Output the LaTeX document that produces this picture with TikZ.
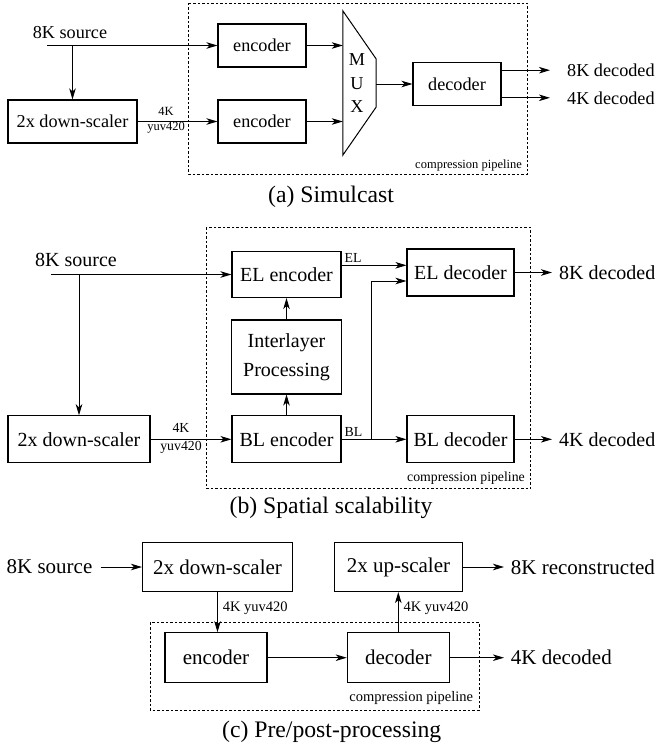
\documentclass[tikz,border=0pt]{standalone}
\usepackage{fontspec}
\setmainfont{Liberation Serif}
\usetikzlibrary{arrows.meta,calc}
\newcommand{\ftA}{\fontsize{18.2}{23.5}\selectfont}
\newcommand{\ftB}{\fontsize{20}{29}\selectfont}
\newcommand{\ftC}{\fontsize{21}{25}\selectfont}
\newcommand{\smA}{\fontsize{12.5}{15}\selectfont}
\newcommand{\smB}{\fontsize{13.8}{18.7}\selectfont}
\newcommand{\smC}{\fontsize{14.5}{17}\selectfont}
\newcommand{\cpA}{\fontsize{23.7}{28}\selectfont}
\begin{document}
\begin{tikzpicture}[x=1pt,y=-1pt,
  blk/.style={draw,line width=1.1pt,inner sep=0pt,align=center},
  arr/.style={-{Stealth[length=11pt,width=6.5pt,inset=3pt]},line width=0.9pt},
  pipe/.style={draw,line width=0.8pt,dash pattern=on 2.5pt off 2pt},
  lbl/.style={inner sep=0pt}]
\useasboundingbox (0,0) rectangle (656,746);

%% ---------------- (a) Simulcast ----------------
\node[lbl,font=\ftA] (srca) at (70,33) {8K source};
\coordinate (sa0) at (47,45.5);
\coordinate (sa1) at (72.5,45.5);
\node[blk,font=\ftA,minimum width=129pt,minimum height=43pt] (dsa) at (72.5,121.5) {2x down-scaler};
\node[blk,font=\ftA,minimum width=88pt,minimum height=43pt] (enca1) at (262,45.5) {encoder};
\node[blk,font=\ftA,minimum width=88pt,minimum height=43pt] (enca2) at (262,121.5) {encoder};
\node[minimum width=33pt,minimum height=144pt,inner sep=0pt] (mux) at (359.5,83) {};
\draw[line width=1pt] (mux.north west) -- ($(mux.east)+(0,-24)$) -- ($(mux.east)+(0,24)$) -- (mux.south west) -- cycle;
\node[lbl,font=\ftA,align=center] (muxt) at (357,83.5) {M\\U\\X};
\node[blk,font=\ftA,minimum width=88pt,minimum height=43pt] (deca) at (457,84) {decoder};
\node[lbl,font=\ftA,anchor=west] (o8a) at (567,70.2) {8K decoded};
\node[lbl,font=\ftA,anchor=west] (o4a) at (567,97.8) {4K decoded};
\node[lbl,font=\smA,align=center] (ka) at (166,120.5) {4K\\yuv420};
\draw[pipe] (188,3) rectangle (527,174);
\node[lbl,font=\smA,anchor=east] (cpa) at (522,165) {compression pipeline};
\node[font=\cpA] (capa) at (331,197) {(a) Simulcast};

\draw[arr] (sa0) -- (enca1.west);
\draw[arr] (sa1) -- (dsa.north);
\draw[arr] (dsa.east) -- (enca2.west);
\draw[arr] (enca1.east) -- (mux.west |- enca1.east);
\draw[arr] (enca2.east) -- (mux.west |- enca2.east);
\draw[arr] (mux.east |- deca.west) -- (deca.west);
\draw[arr,shorten >=17pt] (deca.east |- o8a.west) -- (o8a.west);
\draw[arr,shorten >=17pt] (deca.east |- o4a.west) -- (o4a.west);

%% ---------------- (b) Spatial scalability ----------------
\node[lbl,font=\ftB] (srcb) at (76,260) {8K source};
\coordinate (sb0) at (51,274.5);
\coordinate (sb1) at (79,274.5);
\node[blk,font=\ftB,minimum width=142pt,minimum height=47pt] (dsb) at (79,439.3) {2x down-scaler};
\node[blk,font=\ftB,minimum width=109pt,minimum height=46pt] (elenc) at (286.5,274.5) {EL encoder};
\node[blk,font=\ftB,minimum width=110pt,minimum height=74pt] (ilp) at (286.5,357) {Interlayer\\Processing};
\node[blk,font=\ftB,minimum width=109pt,minimum height=47pt] (blenc) at (286.5,439.3) {BL encoder};
\node[blk,font=\ftB,minimum width=107pt,minimum height=47pt] (eldec) at (460.5,272.5) {EL decoder};
\node[blk,font=\ftB,minimum width=107pt,minimum height=47pt] (bldec) at (460.5,439.3) {BL decoder};
\node[lbl,font=\ftB,anchor=west] (o8b) at (559,272.5) {8K decoded};
\node[lbl,font=\ftB,anchor=west] (o4b) at (559,439.3) {4K decoded};
\node[lbl,font=\smB,align=center] (kb) at (181,438.4) {4K\\yuv420};
\node[lbl,font=\smB] (elt) at (353,257.5) {EL};
\node[lbl,font=\smB] (blt) at (353.5,431.5) {BL};
\coordinate (jb) at (371,439.3);
\coordinate (ela) at ($(elenc.east)+(0,-9.2)$);
\draw[pipe] (206,227.3) rectangle (530.7,488.3);
\node[lbl,font=\smB,anchor=east] (cpb) at (525,477.7) {compression pipeline};
\node[font=\cpA] (capb) at (331,508.3) {(b) Spatial scalability};

\draw[arr] (sb0) -- (elenc.west);
\draw[arr] (sb1) -- (dsb.north);
\draw[arr] (dsb.east) -- (blenc.west);
\draw[arr] (blenc.north) -- (ilp.south);
\draw[arr] (ilp.north) -- (elenc.south);
\draw[arr] (ela) -- (ela -| eldec.west);
\draw[arr] (blenc.east) -- (bldec.west);
\draw[arr] (jb) |- ($(eldec.west)+(0,8.5)$);
\draw[arr,shorten >=7pt] (eldec.east) -- (o8b.west);
\draw[arr,shorten >=7pt] (bldec.east) -- (o4b.west);

%% ---------------- (c) Pre/post-processing ----------------
\node[lbl,font=\ftC] (srcc) at (49.5,567) {8K source};
\node[blk,font=\ftC,minimum width=150pt,minimum height=49pt] (dsc) at (217.5,567) {2x down-scaler};
\node[blk,font=\ftC,minimum width=102pt,minimum height=50pt] (encc) at (216,657.7) {encoder};
\node[blk,font=\ftC,minimum width=102pt,minimum height=50pt] (decc) at (398.3,657.7) {decoder};
\node[blk,font=\ftC,minimum width=128pt,minimum height=49pt] (upc) at (398.5,567) {2x up-scaler};
\node[lbl,font=\ftC,anchor=west] (o8c) at (510.7,567) {8K reconstructed};
\node[lbl,font=\ftC,anchor=west] (o4c) at (510.7,657.7) {4K decoded};
\node[lbl,font=\smC,anchor=west] (kc1) at (222.7,608.3) {4K yuv420};
\node[lbl,font=\smC,anchor=west] (kc2) at (403.3,608.3) {4K yuv420};
\draw[pipe] (150,622.7) rectangle (479,710);
\node[lbl,font=\smC,anchor=east] (cpc) at (473.3,698.3) {compression pipeline};
\node[font=\cpA] (capc) at (331.7,732) {(c) Pre/post-processing};

\draw[arr,shorten <=8pt] (srcc.east) -- (dsc.west);
\draw[arr] (dsc.south) -- (encc.north -| dsc.south);
\draw[arr] (encc.east) -- (decc.west);
\draw[arr] (decc.north) -- (upc.south -| decc.north);
\draw[arr,shorten >=6.7pt] (upc.east) -- (upc.east -| o8c.west);
\draw[arr,shorten >=6.7pt] (decc.east) -- (decc.east -| o4c.west);
\end{tikzpicture}
\end{document}
